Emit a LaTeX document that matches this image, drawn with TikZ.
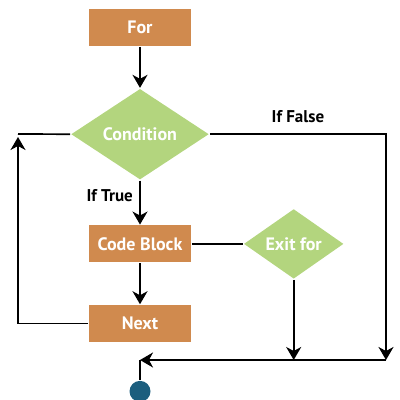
\documentclass[tikz,border=0pt]{standalone}
\usepackage{fontspec}
\setmainfont{PT Sans}
\usetikzlibrary{arrows.meta,positioning,shapes.geometric}

\definecolor{boxorange}{HTML}{D08A4E}
\definecolor{condgreen}{HTML}{B3D57E}
\definecolor{enddot}{HTML}{1B5E7E}

\begin{document}
\begin{tikzpicture}[x=1pt,y=-1pt,->,>={Stealth[length=13pt,width=15pt,inset=4pt]},
    line width=1.7pt,
    step box/.style={rectangle,fill=boxorange,text=white,minimum width=102pt,
      minimum height=37pt,inner sep=0pt,font=\bfseries\fontsize{18}{20}\selectfont},
    cond node/.style={diamond,fill=condgreen,text=white,inner sep=0pt,
      font=\bfseries\fontsize{18}{20}\selectfont},
    label text/.style={font=\bfseries\fontsize{17}{19}\selectfont,text=black}]

\useasboundingbox (0,0) rectangle (400,400);

\node[step box] (for) at (140,27.5) {For};
\node[cond node, minimum width=138pt, minimum height=91pt] (cond) [below=41pt of for] {Condition};
\node[step box] (code) [below=44pt of cond] {Code Block};
\node[step box] (next) [below=41pt of code] {Next};
\node[cond node, minimum width=100pt, minimum height=70pt] (exit) [right=51pt of code] {Exit for};

\coordinate (loopup) at (18,134);
\coordinate (falsedown) at (386,360);
\coordinate (join) at (140,360);
\node[circle,fill=enddot,minimum size=21pt,inner sep=0pt] (stop) [below=20pt of join] {};

\path[every node/.style={label text}]
(for) edge (cond)
(cond) edge node[left=3pt, pos=0.35] {If True} (code)
(code) edge (next)
    edge [-] (exit);

\draw[shorten >=3pt] (next.west) -| (loopup);
\draw[-] (loopup) -- (cond.west);
\draw (cond.east) -| node[pos=0.25, above=7pt, label text] {If False} (falsedown);
\draw (exit.south) -- (exit |- falsedown);
\draw (falsedown) -- (join);
\draw[-] (join) -- (stop);
\end{tikzpicture}
\end{document}
